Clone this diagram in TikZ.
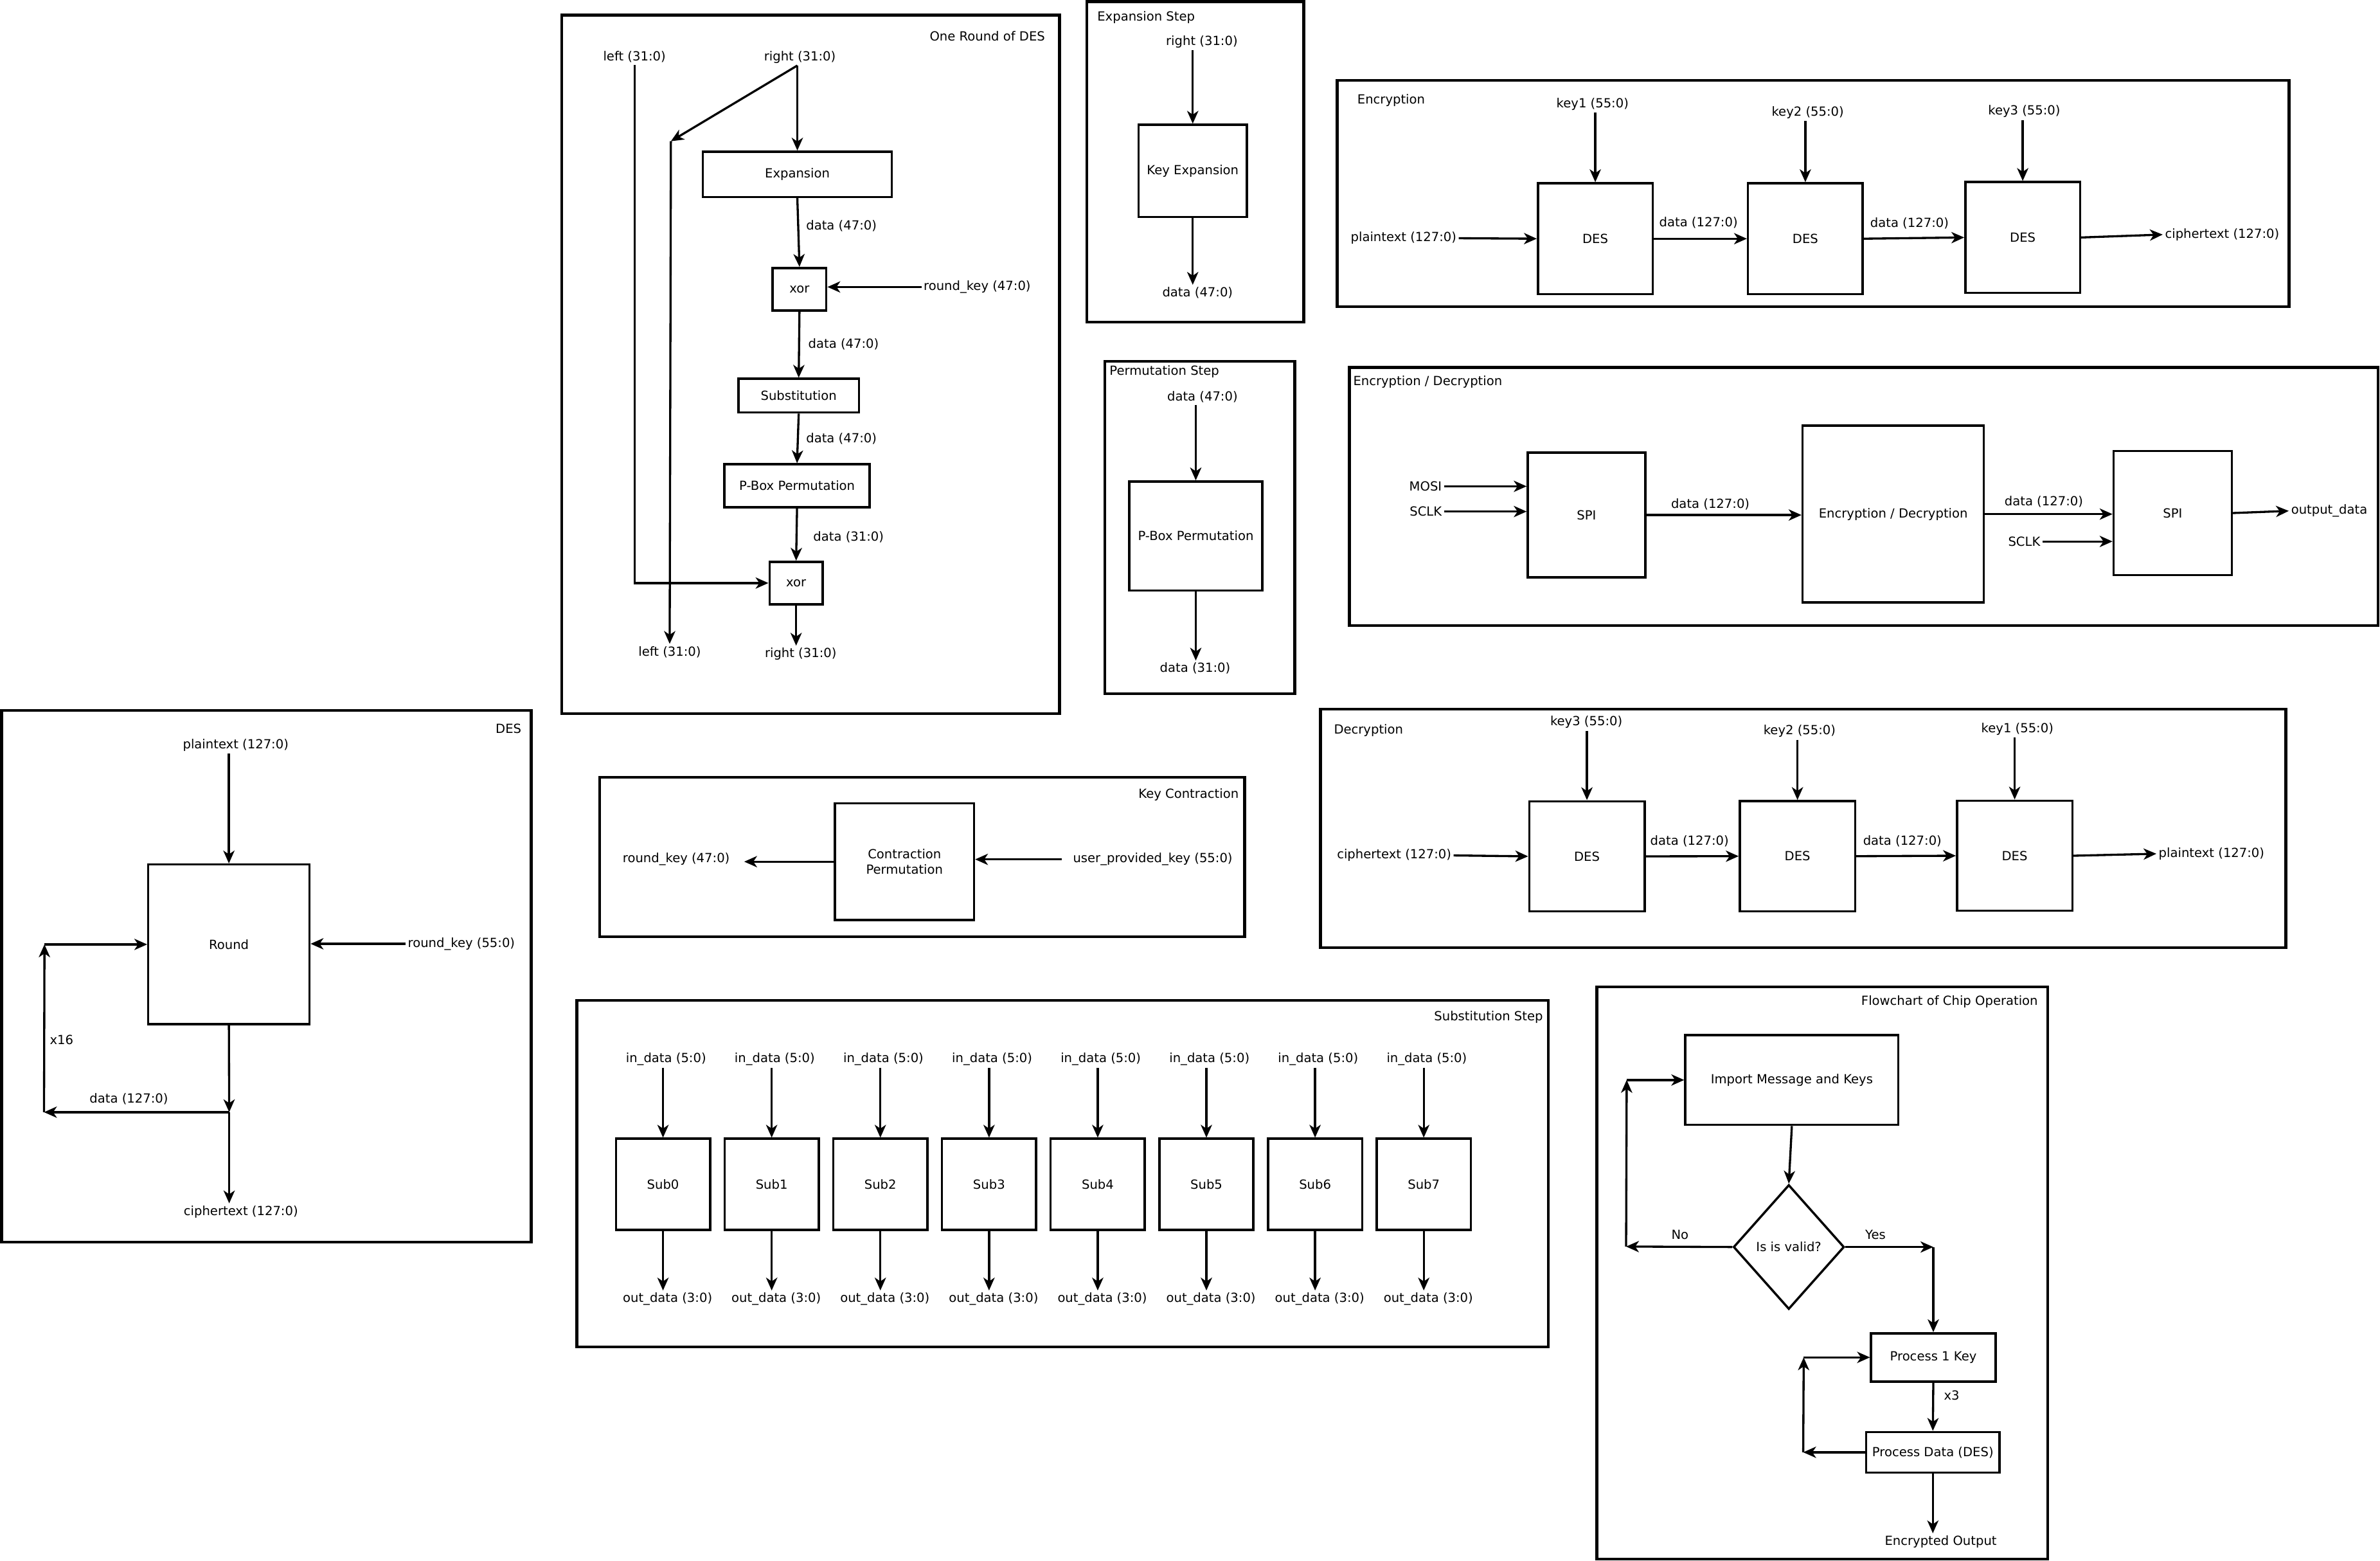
\documentclass[tikz,border=0pt]{standalone}
\usepackage{fontspec}
\setmainfont{DejaVu Sans}
\usetikzlibrary{arrows.meta,positioning,shapes.geometric}

\tikzset{
  frame/.style={draw, line width=2.6pt},
  blk/.style={draw, line width=2.1pt, inner sep=2pt, align=center},
  lbl/.style={inner sep=2pt},
  arr/.style={line width=2pt, -{Stealth[length=12pt,width=10.5pt,inset=3.5pt]}},
}

\begin{document}
\begin{tikzpicture}[x=0.05cm, y=-0.05cm, font=\fontsize{11.8}{14}\selectfont]
\path[use as bounding box] (0,0) rectangle (1568,1028);

% One round of DES
\draw[frame] (370,10) rectangle (698,470);
\node[lbl, anchor=east] (rdttl) at (690,24) {One Round of DES};
\node[lbl] (rdlin) at (418,37.6) {left (31:0)};
\node[lbl] (rdrin) at (527,37.6) {right (31:0)};
\node[blk, minimum width=6.23cm, minimum height=1.49cm] (rdexp) at (525.3,114.8) {Expansion};
\node[blk, minimum width=1.77cm, minimum height=1.4cm] (rdxora) at (526.7,190.5) {xor};
\node[blk, minimum width=3.97cm, minimum height=1.11cm] (rdsub) at (526.2,260.6) {Substitution};
\node[blk, minimum width=4.79cm, minimum height=1.41cm] (rdpbox) at (525.1,319.9) {P-Box Permutation};
\node[blk, minimum width=1.75cm, minimum height=1.4cm] (rdxorb) at (524.5,384) {xor};
\node[lbl, anchor=west] (rdkey) at (607,189) {round\_key (47:0)};
\node[lbl, anchor=west] (rddata1) at (529.6,148.6) {data (47:0)};
\node[lbl, anchor=west] (rddata2) at (531,226.6) {data (47:0)};
\node[lbl, anchor=west] (rddata3) at (529.6,288.9) {data (47:0)};
\node[lbl, anchor=west] (rddata4) at (534.3,353.6) {data (31:0)};
\node[lbl] (rdlout) at (441.2,429.3) {left (31:0)};
\node[lbl] (rdrout) at (527.5,430.8) {right (31:0)};
\coordinate (rdturn) at (442,93);
\draw[arr] (rdexp.north |- rdrin.south) -- (rdexp.north);
\draw[arr] (rdexp.north |- rdrin.south) -- (rdturn);
\draw[arr] (rdturn) -- (rdlout.north);
\draw[arr] (rdexp.south) -- (rdxora.north);
\draw[arr] (rdkey.west) -- (rdkey.west -| rdxora.east);
\draw[arr] (rdxora.south) -- (rdsub.north);
\draw[arr] (rdsub.south) -- (rdpbox.north);
\draw[arr] (rdpbox.south) -- (rdxorb.north);
\draw[arr] (rdlin.south) |- (rdxorb.west);
\draw[arr] (rdxorb.south) -- (rdxorb.south |- rdrout.north);

% Expansion step
\draw[frame] (716,1) rectangle (859,212);
\node[lbl, anchor=west] (exttl) at (721.4,11.3) {Expansion Step};
\node[lbl] (exin) at (791.8,27.4) {right (31:0)};
\node[blk, minimum width=3.56cm, minimum height=3.04cm] (exbox) at (785.8,112.6) {Key Expansion};
\node[lbl] (exout) at (789,192.8) {data (47:0)};
\draw[arr] (exbox.north |- exin.south) -- (exbox.north);
\draw[arr] (exbox.south) -- (exbox.south |- exout.north);

% Permutation step
\draw[frame] (728,238) rectangle (853,457);
\node[lbl, anchor=west] (pmttl) at (729.5,244.7) {Permutation Step};
\node[lbl] (pmin) at (792.2,261.4) {data (47:0)};
\node[blk, minimum width=4.39cm, minimum height=3.59cm] (pmbox) at (787.8,353) {P-Box Permutation};
\node[lbl] (pmout) at (787.4,440.3) {data (31:0)};
\draw[arr] (pmbox.north |- pmin.south) -- (pmbox.north);
\draw[arr] (pmbox.south) -- (pmbox.south |- pmout.north);

% Encryption
\draw[frame] (881,53) rectangle (1508,202);
\node[lbl, anchor=west] (enttl) at (892.7,66) {Encryption};
\node[blk, minimum width=3.78cm, minimum height=3.65cm] (endes1) at (1051,157.2) {DES};
\node[blk, minimum width=3.78cm, minimum height=3.65cm] (endes2) at (1189.4,157.2) {DES};
\node[blk, minimum width=3.78cm, minimum height=3.65cm] (endes3) at (1332.6,156.4) {DES};
\node[lbl] (enkey1) at (1049.2,68.5) {key1 (55:0)};
\node[lbl] (enkey2) at (1191,74.2) {key2 (55:0)};
\node[lbl] (enkey3) at (1333.6,73.5) {key3 (55:0)};
\node[lbl] (enplain) at (924.7,156.9) {plaintext (127:0)};
\node[lbl] (encipher) at (1464,154.5) {ciphertext (127:0)};
\node[lbl] (endata1) at (1119,146.6) {data (127:0)};
\node[lbl] (endata2) at (1258,147) {data (127:0)};
\draw[arr] (endes1.north |- enkey1.south) -- (endes1.north);
\draw[arr] (endes2.north |- enkey2.south) -- (endes2.north);
\draw[arr] (endes3.north |- enkey3.south) -- (endes3.north);
\draw[arr] (enplain.east) -- (endes1.west);
\draw[arr] (endes1.east) -- (endes2.west);
\draw[arr] (endes2.east) -- (endes3.west);
\draw[arr] (endes3.east) -- (encipher.west);

% Encryption / Decryption
\draw[frame] (889,242) rectangle (1566.6,412);
\node[lbl, anchor=west] (edttl) at (890,251.6) {Encryption / Decryption};
\node[blk, minimum width=3.87cm, minimum height=4.11cm] (edspia) at (1045.2,339.2) {SPI};
\node[blk, minimum width=5.97cm, minimum height=5.82cm] (edcore) at (1247.3,338.6) {Encryption / Decryption};
\node[blk, minimum width=3.89cm, minimum height=4.09cm] (edspib) at (1431.4,337.9) {SPI};
\node[lbl, anchor=east] (edmosi) at (951.4,320.3) {MOSI};
\node[lbl, anchor=east] (edsclka) at (951.4,336.9) {SCLK};
\node[lbl, anchor=east] (edsclkb) at (1345.7,356.6) {SCLK};
\node[lbl] (eddata1) at (1126.8,332.2) {data (127:0)};
\node[lbl] (eddata2) at (1346.5,330.5) {data (127:0)};
\node[lbl, anchor=west] (edout) at (1507.9,336.5) {output\_data};
\draw[arr] (edmosi.east) -- (edmosi.east -| edspia.west);
\draw[arr] (edsclka.east) -- (edsclka.east -| edspia.west);
\draw[arr] (edspia.east) -- (edspia.east -| edcore.west);
\draw[arr] (edcore.east) -- (edcore.east -| edspib.west);
\draw[arr] (edsclkb.east) -- (edsclkb.east -| edspib.west);
\draw[arr] (edspib.east) -- (edout.west);

% DES
\draw[frame] (1,468) rectangle (350,818);
\node[lbl, anchor=east] (dsttl) at (345,480.1) {DES};
\node[lbl] (dsplain) at (155.3,490.6) {plaintext (127:0)};
\node[blk, minimum width=5.31cm, minimum height=5.26cm] (dsround) at (150.8,622) {Round};
\node[lbl, anchor=west] (dskey) at (267.2,621.6) {round\_key (55:0)};
\node[lbl] (dscount) at (40.6,684.7) {x16};
\node[lbl] (dsdata) at (84.9,724) {data (127:0)};
\node[lbl] (dscipher) at (158.7,798.1) {ciphertext (127:0)};
\coordinate (dssplit) at (151,732.5);
\coordinate (dsloopb) at (29,732.5);
\coordinate (dsloopt) at (29.3,622);
\draw[arr] (dsround.north |- dsplain.south) -- (dsround.north);
\draw[arr] (dskey.west) -- (dskey.west -| dsround.east);
\draw[arr] (dsround.south) -- (dssplit);
\draw[arr] (dssplit) -- (dsloopb);
\draw[arr] (dsloopb) -- (dsloopt);
\draw[arr] (dsloopt) -- (dsround.west);
\draw[arr] (dssplit) -- (dssplit |- dscipher.north);

% Key contraction
\draw[frame] (395,512) rectangle (820,617);
\node[lbl, anchor=east] (kcttl) at (817.6,523.3) {Key Contraction};
\node[blk, minimum width=4.58cm, minimum height=3.85cm] (kcbox) at (595.9,567.5) {Contraction\\Permutation};
\node[lbl, anchor=east] (kcout) at (482.3,566) {round\_key (47:0)};
\node[lbl, anchor=west] (kcin) at (705.4,566) {user\_provided\_key (55:0)};
\draw[arr, shorten >=0.4cm] (kcbox.west) -- (kcbox.west -| kcout.east);
\draw[arr, shorten <=0.3cm] (kcin.west) -- (kcin.west -| kcbox.east);

% Decryption
\draw[frame] (870,467) rectangle (1506,624);
\node[lbl, anchor=west] (dcttl) at (877.3,480.9) {Decryption};
\node[blk, minimum width=3.8cm, minimum height=3.63cm] (dcdes1) at (1045.5,564) {DES};
\node[blk, minimum width=3.8cm, minimum height=3.63cm] (dcdes2) at (1184.2,563.9) {DES};
\node[blk, minimum width=3.8cm, minimum height=3.63cm] (dcdes3) at (1327.3,563.6) {DES};
\node[lbl] (dckey3) at (1045.1,475.7) {key3 (55:0)};
\node[lbl] (dckey2) at (1185.6,481.6) {key2 (55:0)};
\node[lbl] (dckey1) at (1329.1,480.2) {key1 (55:0)};
\node[lbl] (dcin) at (918.5,563.4) {ciphertext (127:0)};
\node[lbl] (dcout) at (1457,562.3) {plaintext (127:0)};
\node[lbl] (dcdata1) at (1113.1,553.8) {data (127:0)};
\node[lbl] (dcdata2) at (1253.3,553.8) {data (127:0)};
\draw[arr] (dcdes1.north |- dckey3.south) -- (dcdes1.north);
\draw[arr] (dcdes2.north |- dckey2.south) -- (dcdes2.north);
\draw[arr] (dcdes3.north |- dckey1.south) -- (dcdes3.north);
\draw[arr] (dcin.east) -- (dcdes1.west);
\draw[arr] (dcdes1.east) -- (dcdes2.west);
\draw[arr] (dcdes2.east) -- (dcdes3.west);
\draw[arr] (dcdes3.east) -- (dcout.west);

% Substitution step
\draw[frame] (380,659) rectangle (1020,887);
\node[lbl, anchor=east] (sbttl) at (1018,670.1) {Substitution Step};
\foreach \i in {0,...,7} {
  \pgfmathsetmacro\sbx{436.8+71.6*\i}
  \node[blk, minimum width=3.1cm, minimum height=3cm] (sb\i) at (\sbx,780) {Sub\i};
  \node[lbl] (sbin\i) at (\sbx+2,697.6) {in\_data (5:0)};
  \node[lbl] (sbout\i) at (\sbx+3,855.6) {out\_data (3:0)};
  \draw[arr] (sb\i.north |- sbin\i.south) -- (sb\i.north);
  \draw[arr] (sb\i.south) -- (sb\i.south |- sbout\i.north);
}

% Flowchart of chip operation
\draw[frame] (1052,650) rectangle (1349,1026.8);
\node[lbl, anchor=east] (fcttl) at (1344.1,659.6) {Flowchart of Chip Operation};
\node[blk, minimum width=7.02cm, minimum height=2.96cm] (fcimport) at (1180.5,711.3) {Import Message and Keys};
\node[draw, diamond, line width=2.1pt, inner sep=0pt, minimum width=3.65cm, minimum height=4.1cm] (fcvalid) at (1178.5,821.3) {Is is valid?};
\node[blk, minimum width=4.1cm, minimum height=1.59cm] (fckey) at (1273.7,894) {Process 1 Key};
\node[blk, minimum width=4.4cm, minimum height=1.34cm] (fcdes) at (1273.4,956.5) {Process Data (DES)};
\node[lbl] (fcno) at (1106.8,813.3) {No};
\node[lbl] (fcyes) at (1235.6,813) {Yes};
\node[lbl] (fcrep) at (1285.8,918.8) {x3};
\node[lbl] (fcout) at (1278.6,1015.4) {Encrypted Output};
\coordinate (fcnoc) at (1071.3,821);
\coordinate (fcback) at (1071.7,711.3);
\coordinate (fcyesc) at (1273.7,821.3);
\coordinate (fcloopb) at (1188,956.5);
\coordinate (fcloopt) at (1188.3,894);
\draw[arr] (fcimport.south) -- (fcvalid.north);
\draw[arr] (fcvalid.west) -- (fcnoc);
\draw[arr] (fcnoc) -- (fcback);
\draw[arr] (fcback) -- (fcimport.west);
\draw[arr] (fcvalid.east) -- (fcyesc);
\draw[arr] (fcyesc) -- (fckey.north);
\draw[arr] (fckey.south) -- (fcdes.north);
\draw[arr] (fcdes.west) -- (fcloopb);
\draw[arr] (fcloopb) -- (fcloopt);
\draw[arr] (fcloopt) -- (fckey.west);
\draw[arr] (fcdes.south) -- (fcdes.south |- fcout.north);
\end{tikzpicture}
\end{document}
